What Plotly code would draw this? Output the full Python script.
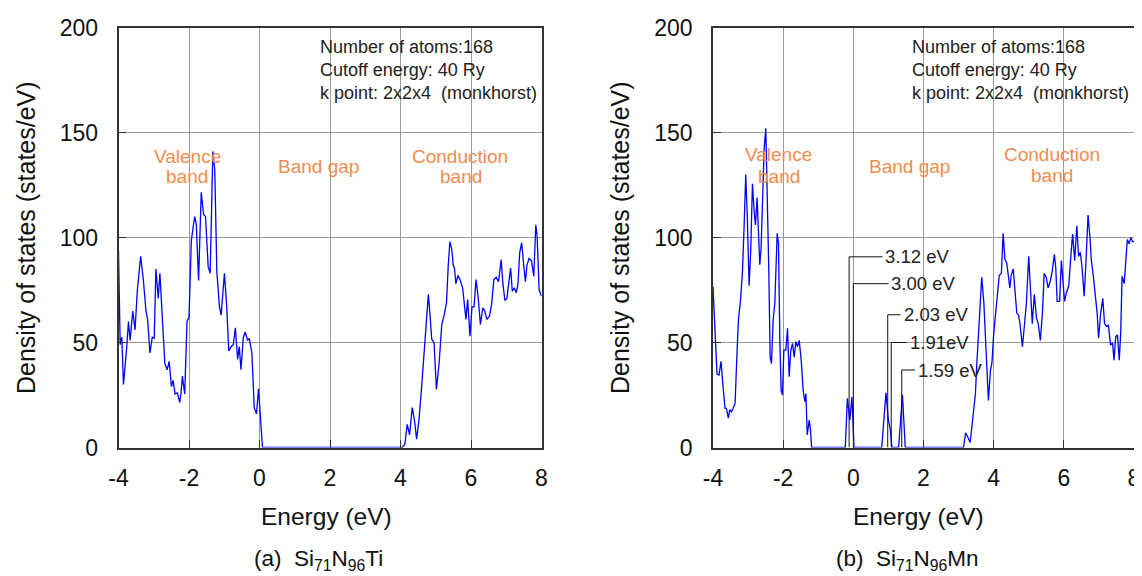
import plotly.graph_objects as go

# ---------------- data ----------------
# (a) Si71N96Ti
ti_energy = [-4.0, -3.953, -3.906, -3.859, -3.765, -3.718, -3.671, -3.596, -3.531, -3.465,
             -3.371, -3.296, -3.221, -3.174, -3.108, -3.042, -2.986, -2.939, -2.873, -2.826,
             -2.751, -2.685, -2.620, -2.563, -2.498, -2.451, -2.394, -2.329, -2.263, -2.225,
             -2.188, -2.122, -2.056, -2.000, -1.934, -1.840, -1.793, -1.728, -1.653, -1.587,
             -1.531, -1.455, -1.399, -1.324, -1.268, -1.211, -1.136, -1.089, -0.995, -0.930,
             -0.873, -0.808, -0.742, -0.685, -0.620, -0.573, -0.526, -0.460, -0.404, -0.338,
             -0.291, -0.216, -0.150, -0.085, -0.028, 0.038, 0.085,
             4.048, 4.124, 4.190, 4.257, 4.333, 4.400, 4.457, 4.524, 4.600, 4.667,
             4.733, 4.790, 4.838, 4.886, 4.952, 5.019, 5.095, 5.171, 5.238, 5.305,
             5.352, 5.400, 5.457, 5.495, 5.533, 5.571, 5.629, 5.686, 5.762, 5.810,
             5.857, 5.905, 5.971, 6.029, 6.086, 6.143, 6.200, 6.267, 6.333, 6.390,
             6.448, 6.524, 6.590, 6.648, 6.714, 6.781, 6.857, 6.905, 6.962, 7.019,
             7.076, 7.124, 7.171, 7.229, 7.286, 7.333, 7.381, 7.438, 7.495, 7.543,
             7.590, 7.648, 7.714, 7.781, 7.838, 7.876, 7.933, 8.0]
ti_dos = [94, 49, 52.5, 30, 48, 60, 51, 65, 56, 75,
          91, 80, 65, 61, 45, 52.5, 52, 85, 71, 83,
          60, 40, 37, 41, 29, 32, 25.5, 26, 21.5, 26,
          34, 25.5, 60, 62, 98.5, 110, 106.5, 79.5, 121.5, 111,
          110, 86, 83, 141, 132, 84, 67, 63, 83, 67,
          46, 48, 49, 57, 42, 48, 37, 52.5, 55, 51,
          52, 45, 19, 16, 28, 13, 0,
          0, 1.5, 11, 6, 19, 12.5, 4, 13, 29, 45,
          57, 73, 63, 51.5, 50, 27.6, 40, 58.6, 63, 69,
          86, 98, 94, 87, 85, 78, 82, 80, 76, 67,
          61, 70.5, 53, 67, 67, 80, 72, 58.6, 66.5, 65,
          61, 62.5, 69, 80, 81, 79, 89.5, 78, 70, 71,
          78, 85.5, 74.4, 76, 73.7, 78, 92.7, 97.5, 87, 79,
          87, 90, 89, 81.6, 106, 100.6, 75, 72]

# (b) Si71N96Mn
mn_energy = [-4.0, -3.952, -3.886, -3.829, -3.771, -3.714, -3.657, -3.619, -3.562, -3.524,
             -3.476, -3.429, -3.371, -3.314, -3.276, -3.219, -3.162, -3.114, -3.067, -3.019,
             -2.971, -2.924, -2.876, -2.829, -2.790, -2.743, -2.705, -2.667, -2.629, -2.590,
             -2.543, -2.495, -2.457, -2.410, -2.371, -2.333, -2.286, -2.238, -2.171, -2.133,
             -2.095, -2.057, -2.019, -1.981, -1.924, -1.876, -1.829, -1.781, -1.733, -1.686,
             -1.638, -1.590, -1.543, -1.486, -1.429, -1.381, -1.352, -1.314, -1.257, -1.219,
             -1.190,
             -0.23, -0.17, -0.10, -0.04, 0.02, 0.81, 0.93, 1.00, 1.05, 1.10, 1.29, 1.40, 1.48,
             3.14, 3.20, 3.26, 3.33, 3.38, 3.43, 3.48, 3.52, 3.56, 3.60, 3.66, 3.72, 3.78,
             3.85, 3.91, 3.95, 4.00, 4.07, 4.11, 4.16, 4.22, 4.27, 4.32, 4.37, 4.42, 4.46,
             4.50, 4.56, 4.60, 4.66, 4.71, 4.75, 4.82, 4.88, 4.93, 5.00, 5.06, 5.10, 5.16,
             5.22, 5.27, 5.33, 5.39, 5.44, 5.50, 5.55, 5.61, 5.67, 5.73, 5.77, 5.81, 5.88,
             5.93, 5.97, 6.02, 6.07, 6.14, 6.20, 6.25, 6.31, 6.37, 6.42, 6.47, 6.52, 6.58,
             6.63, 6.69, 6.75, 6.78, 6.84, 6.90, 6.95, 6.99, 7.05, 7.11, 7.16, 7.22, 7.27,
             7.33, 7.39, 7.43, 7.48, 7.53, 7.58, 7.62, 7.66, 7.72, 7.76, 7.81, 7.86, 7.91,
             7.96, 8.0]
mn_dos = [76.6, 59, 35, 34.5, 41, 29, 18.6, 18.6, 14, 18,
          17, 18.6, 21, 46, 60.7, 69.5, 83, 105, 130, 108,
          77, 94, 125.6, 113, 106, 119, 103.7, 87, 95, 118,
          142, 152, 124, 84.6, 43, 40, 60.7, 68.7, 102, 97,
          51, 27, 25, 46.4, 46.4, 56.8, 33.7, 46.4, 49.6, 43,
          50.4, 48, 51, 41.6, 27, 21.8, 25.7, 6, 13, 8,
          0,
          0, 23.4, 13, 24, 0, 0, 26, 13, 9, 0, 0, 25, 0,
          0, 7, 5, 2.4, 10, 17.6, 25.6, 40, 53, 62, 81, 69, 48,
          22.4, 37, 40, 54, 67, 73.6, 82, 83, 102, 89.6, 88, 81.6, 76,
          82, 85, 76, 64, 63, 59, 48, 61, 68, 91, 75, 59, 73,
          61.6, 59, 51, 64, 83, 81, 76, 79, 84, 92, 85.6, 69.6, 69.6,
          89, 80, 69.6, 73.6, 77, 91, 101.6, 89, 105.6, 91, 93, 85.6, 72,
          88, 110.7, 99, 90, 81.6, 72.8, 64, 52, 64, 71, 59, 57.6, 58.4,
          49, 49.6, 41.6, 52.8, 53.6, 41.6, 54, 81.6, 78, 88, 99, 97, 100,
          98, 98]

# band-gap callouts in panel (b)
gap_labels = ["3.12 eV", "3.00 eV", "2.03 eV", "1.91eV", "1.59 eV"]
gap_state_energy = [-0.12, 0.0, 0.98, 1.08, 1.38]
gap_label_level = [90.8, 78, 63.2, 50, 36.9]
gap_label_energy = [0.83, 1.0, 1.35, 1.52, 1.76]

x_ticks = [-4, -2, 0, 2, 4, 6, 8]
x_tick_text = ["-4", "-2", "0", "2", "4", "6", "8"]
y_ticks = [0, 50, 100, 150, 200]
y_tick_text = ["0", "50", "100", "150", "200"]
info_lines = ["Number of atoms:168", "Cutoff energy: 40 Ry", "k point: 2x2x4  (monkhorst)"]
captions = ["(a)  Si<sub>71</sub>N<sub>96</sub>Ti", "(b)  Si<sub>71</sub>N<sub>96</sub>Mn"]

# ---------------- figure ----------------
W, H = 1142, 576
OFF = 8  # page body margin around the plot div
FONT = "Arial, Liberation Sans, sans-serif"
ORANGE = "#F28C4E"

fig = go.Figure()
fig.add_trace(go.Scatter(x=ti_energy, y=ti_dos, mode="lines", xaxis="x", yaxis="y",
                         line=dict(color="#0000FF", width=1.3), showlegend=False))
fig.add_trace(go.Scatter(x=mn_energy, y=mn_dos, mode="lines", xaxis="x2", yaxis="y2",
                         line=dict(color="#0000FF", width=1.3), showlegend=False))

annotations = []
for e0, lev, e1, lab in zip(gap_state_energy, gap_label_level, gap_label_energy, gap_labels):
    fig.add_trace(go.Scatter(x=[e0, e0, e1], y=[0, lev, lev], mode="lines", xaxis="x2", yaxis="y2",
                             line=dict(color="#111111", width=1), showlegend=False, hoverinfo="skip"))
    annotations.append(dict(x=e1, y=lev, xref="x2", yref="y2", text=lab, showarrow=False,
                            xanchor="left", yanchor="middle", xshift=1,
                            font=dict(family=FONT, size=18.5, color="#222222")))

def px(x):
    return (x - OFF) / W

def py(y):
    return 1 - (y - OFF) / H

axis_common = dict(showline=True, mirror=True, linecolor="#333333", linewidth=1.5,
                   ticks="inside", ticklen=8, tickwidth=1.3, tickcolor="#333333",
                   showgrid=True, gridcolor="#9a9a9a", gridwidth=1.3, zeroline=False,
                   automargin=False,
                   tickfont=dict(family=FONT, size=23, color="#111111"))

xd1 = [px(118.5), px(541.5)]
xd2 = [px(713), px(1134)]
yd = [py(447.5), py(27.5)]

fig.update_layout(
    width=W, height=H, margin=dict(l=0, r=0, t=0, b=0, autoexpand=False),
    paper_bgcolor="white", plot_bgcolor="white",
    xaxis=dict(domain=xd1, range=[-4, 8], tickvals=x_ticks, ticktext=x_tick_text, anchor="y",
               ticklabelstandoff=9, **axis_common),
    yaxis=dict(domain=yd, range=[0, 200], tickvals=y_ticks, ticktext=y_tick_text, anchor="x",
               ticklabelstandoff=14, **axis_common),
    xaxis2=dict(domain=xd2, range=[-4, 8], tickvals=x_ticks, ticktext=x_tick_text, anchor="y2",
                ticklabelstandoff=9, **axis_common),
    yaxis2=dict(domain=yd, range=[0, 200], tickvals=y_ticks, ticktext=y_tick_text, anchor="x2",
                ticklabelstandoff=14, **axis_common),
)

def text_ann(x, y, text, size, color="#111111", xanchor="center", angle=0):
    return dict(x=px(x), y=py(y), xref="paper", yref="paper", text=text, showarrow=False,
                xanchor=xanchor, yanchor="middle", textangle=angle,
                font=dict(family=FONT, size=size, color=color))

for x0 in (26, 620):
    annotations.append(text_ann(x0, 238, "Density of states (states/eV)", 25, angle=-90))
for x0 in (326, 918):
    annotations.append(text_ann(x0, 516, "Energy (eV)", 24.5))
annotations.append(text_ann(318, 560, captions[0], 22.5))
annotations.append(text_ann(907, 560, captions[1], 22.5))

for x0 in (318, 910):
    for i, line in enumerate(info_lines):
        annotations.append(text_ann(x0, 46.5 + 23.3 * i, line, 18, color="#222222", xanchor="left"))

# orange region labels
region_pos = [
    (187, 156, "Valence"), (187, 176, "band"), (318, 166, "Band gap"),
    (460, 156, "Conduction"), (461, 176, "band"),
    (778, 155, "Valence"), (779, 176, "band"), (909, 166, "Band gap"),
    (1052, 154, "Conduction"), (1052, 175, "band"),
]
for x0, y0, t in region_pos:
    annotations.append(text_ann(x0, y0, t, 19, color=ORANGE))

fig.update_layout(annotations=annotations)
fig.write_html("out.html")
